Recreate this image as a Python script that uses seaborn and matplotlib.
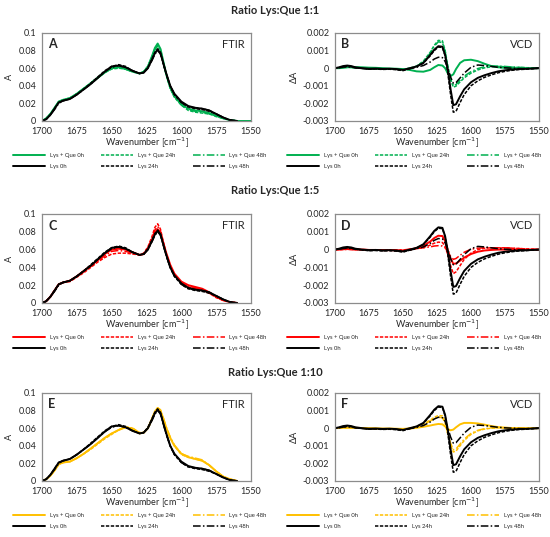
import numpy as np
import pandas as pd
import matplotlib
matplotlib.use("Agg")
import matplotlib.pyplot as plt
import seaborn as sns
from matplotlib.ticker import FuncFormatter

nan = np.nan

# wavenumber grid (cm-1), shared by every spectrum
WN = [1700, 1697, 1694, 1691, 1688, 1685,
      1680, 1675, 1670, 1665, 1660, 1655, 1650, 1645, 1640, 1635, 1630,
      1627, 1624, 1621, 1619, 1617, 1615, 1613, 1611, 1608, 1605,
      1600, 1595, 1590, 1585, 1580, 1575, 1570, 1565, 1560, 1555, 1550]

# ---- FTIR (absorbance) ----
LYS_FTIR_0H = [0.000, 0.002, 0.007, 0.014, 0.021, 0.023,
               0.025, 0.030, 0.036, 0.042, 0.049, 0.056, 0.062, 0.063, 0.061, 0.057, 0.054,
               0.055, 0.060, 0.070, 0.077, 0.081, 0.077, 0.066, 0.055, 0.040, 0.031,
               0.022, 0.017, 0.015, 0.014, 0.012, 0.008, 0.004, 0.001, 0.000, nan, nan]
LYS_FTIR_24H = [0.000, 0.002, 0.007, 0.014, 0.021, 0.023,
                0.025, 0.030, 0.036, 0.043, 0.050, 0.057, 0.062, 0.064, 0.062, 0.057, 0.054,
                0.055, 0.061, 0.071, 0.078, 0.082, 0.078, 0.066, 0.054, 0.040, 0.030,
                0.021, 0.016, 0.014, 0.013, 0.011, 0.008, 0.004, 0.001, 0.000, nan, nan]
LYS_FTIR_48H = [0.000, 0.002, 0.007, 0.013, 0.020, 0.023,
                0.025, 0.030, 0.036, 0.042, 0.049, 0.056, 0.061, 0.063, 0.061, 0.057, 0.054,
                0.055, 0.060, 0.069, 0.076, 0.080, 0.076, 0.065, 0.054, 0.040, 0.030,
                0.021, 0.016, 0.015, 0.014, 0.012, 0.008, 0.004, 0.001, 0.000, nan, nan]

QUE11_FTIR_0H = [0.000, 0.003, 0.008, 0.015, 0.022, 0.024,
                 0.026, 0.031, 0.037, 0.043, 0.049, 0.055, 0.060, 0.061, 0.059, 0.056, 0.054,
                 0.056, 0.062, 0.074, 0.083, 0.088, 0.082, 0.068, 0.054, 0.038, 0.028,
                 0.019, 0.014, 0.012, 0.011, 0.009, 0.006, 0.003, 0.001, 0.000, 0.000, 0.000]
QUE11_FTIR_24H = [0.000, 0.003, 0.008, 0.015, 0.022, 0.024,
                  0.026, 0.031, 0.037, 0.043, 0.049, 0.055, 0.059, 0.060, 0.059, 0.056, 0.054,
                  0.056, 0.062, 0.073, 0.082, 0.086, 0.081, 0.067, 0.053, 0.037, 0.027,
                  0.018, 0.012, 0.010, 0.009, 0.008, 0.005, 0.003, 0.001, 0.000, 0.000, 0.000]
QUE11_FTIR_48H = [0.000, 0.003, 0.008, 0.015, 0.022, 0.024,
                  0.026, 0.031, 0.037, 0.043, 0.050, 0.056, 0.060, 0.061, 0.059, 0.056, 0.054,
                  0.056, 0.062, 0.073, 0.081, 0.085, 0.080, 0.067, 0.054, 0.038, 0.028,
                  0.018, 0.013, 0.011, 0.010, 0.008, 0.006, 0.003, 0.001, 0.000, 0.000, 0.000]

QUE15_FTIR_0H = [0.000, 0.002, 0.007, 0.014, 0.021, 0.023,
                 0.025, 0.030, 0.036, 0.042, 0.048, 0.055, 0.060, 0.061, 0.060, 0.057, 0.054,
                 0.055, 0.061, 0.071, 0.079, 0.083, 0.079, 0.068, 0.057, 0.043, 0.033,
                 0.024, 0.020, 0.018, 0.016, 0.012, 0.007, 0.003, 0.001, 0.000, nan, nan]
QUE15_FTIR_24H = [0.000, 0.002, 0.007, 0.014, 0.021, 0.023,
                  0.024, 0.029, 0.034, 0.040, 0.046, 0.051, 0.055, 0.056, 0.056, 0.055, 0.054,
                  0.056, 0.063, 0.075, 0.085, 0.089, 0.083, 0.069, 0.056, 0.041, 0.031,
                  0.022, 0.018, 0.016, 0.015, 0.011, 0.006, 0.003, 0.001, 0.000, nan, nan]
QUE15_FTIR_48H = [0.000, 0.002, 0.007, 0.014, 0.021, 0.023,
                  0.025, 0.030, 0.035, 0.041, 0.047, 0.053, 0.058, 0.059, 0.058, 0.056, 0.054,
                  0.055, 0.062, 0.073, 0.082, 0.086, 0.081, 0.068, 0.056, 0.042, 0.032,
                  0.023, 0.019, 0.017, 0.015, 0.011, 0.007, 0.003, 0.001, 0.000, nan, nan]

QUE110_FTIR_0H = [0.000, 0.002, 0.006, 0.012, 0.019, 0.021,
                  0.022, 0.026, 0.031, 0.037, 0.043, 0.049, 0.054, 0.058, 0.061, 0.059, 0.054,
                  0.055, 0.060, 0.071, 0.079, 0.083, 0.080, 0.071, 0.061, 0.049, 0.040,
                  0.031, 0.027, 0.025, 0.023, 0.018, 0.011, 0.005, 0.002, 0.000, nan, nan]
QUE110_FTIR_24H = [0.000, 0.002, 0.006, 0.012, 0.019, 0.021,
                   0.022, 0.026, 0.031, 0.036, 0.042, 0.048, 0.053, 0.058, 0.061, 0.060, 0.055,
                   0.055, 0.060, 0.070, 0.078, 0.082, 0.080, 0.071, 0.061, 0.049, 0.040,
                   0.030, 0.027, 0.025, 0.023, 0.018, 0.011, 0.005, 0.002, 0.000, nan, nan]
QUE110_FTIR_48H = [0.000, 0.002, 0.006, 0.012, 0.019, 0.021,
                   0.022, 0.026, 0.031, 0.037, 0.043, 0.049, 0.054, 0.058, 0.062, 0.060, 0.055,
                   0.055, 0.060, 0.071, 0.079, 0.083, 0.081, 0.072, 0.062, 0.050, 0.041,
                   0.031, 0.028, 0.026, 0.024, 0.018, 0.011, 0.005, 0.002, 0.000, nan, nan]

# ---- VCD (delta A, in units of 1e-3) ----
LYS_VCD_0H = [0.00, 0.05, 0.12, 0.15, 0.12, 0.05,
              0.00, -0.03, -0.02, -0.04, -0.03, -0.05, -0.10, 0.00, 0.10, 0.30, 0.75,
              1.05, 1.25, 1.22, 0.75, -0.10, -1.20, -2.10, -2.05, -1.60, -1.20,
              -0.80, -0.55, -0.40, -0.28, -0.18, -0.12, -0.08, -0.05, -0.04, -0.02, 0.00]
LYS_VCD_24H = [0.00, 0.03, 0.08, 0.10, 0.08, 0.03,
               -0.02, -0.06, -0.05, -0.07, -0.06, -0.08, -0.14, -0.03, 0.08, 0.28, 0.70,
               1.00, 1.20, 1.18, 0.70, -0.30, -1.50, -2.50, -2.45, -1.95, -1.50,
               -1.00, -0.72, -0.52, -0.38, -0.26, -0.18, -0.12, -0.08, -0.06, -0.03, 0.00]
LYS_VCD_48H = [0.00, 0.02, 0.06, 0.08, 0.06, 0.02,
               -0.02, -0.05, -0.04, -0.06, -0.05, -0.07, -0.12, -0.03, 0.05, 0.15, 0.35,
               0.52, 0.62, 0.60, 0.38, 0.00, -0.50, -0.85, -0.82, -0.55, -0.28,
               0.05, 0.18, 0.15, 0.10, 0.05, 0.02, 0.00, -0.02, -0.03, -0.02, 0.00]

QUE11_VCD_0H = [0.00, 0.00, 0.02, 0.05, 0.06, 0.06,
                0.05, 0.03, 0.02, 0.00, -0.02, -0.03, -0.05, -0.10, -0.18, -0.20, -0.10,
                0.05, 0.18, 0.15, 0.00, -0.30, -0.45, -0.35, -0.05, 0.30, 0.45,
                0.48, 0.40, 0.25, 0.12, 0.05, 0.02, 0.00, 0.00, 0.00, 0.00, 0.00]
QUE11_VCD_24H = [0.00, 0.02, 0.05, 0.06, 0.05, 0.03,
                 0.00, -0.03, -0.04, -0.05, -0.05, -0.06, -0.08, 0.00, 0.12, 0.40, 0.90,
                 1.30, 1.58, 1.55, 1.00, 0.10, -0.65, -1.08, -1.02, -0.78, -0.55,
                 -0.28, -0.10, 0.02, 0.08, 0.10, 0.08, 0.06, 0.04, 0.03, 0.01, 0.00]
QUE11_VCD_48H = [0.00, 0.02, 0.04, 0.05, 0.04, 0.02,
                 0.00, -0.02, -0.03, -0.04, -0.04, -0.05, -0.07, 0.00, 0.10, 0.35, 0.85,
                 1.25, 1.50, 1.45, 0.95, 0.05, -0.62, -1.00, -0.93, -0.68, -0.45,
                 -0.20, -0.02, 0.08, 0.12, 0.12, 0.10, 0.07, 0.05, 0.03, 0.02, 0.00]

QUE15_VCD_0H = [0.00, 0.01, 0.02, 0.03, 0.02, 0.01,
                0.00, -0.02, -0.02, -0.03, -0.03, -0.04, -0.05, 0.00, 0.08, 0.22, 0.45,
                0.65, 0.78, 0.76, 0.48, -0.05, -0.50, -0.80, -0.78, -0.62, -0.45,
                -0.25, -0.12, -0.05, -0.02, 0.00, 0.00, 0.00, 0.00, 0.00, 0.00, 0.00]
QUE15_VCD_24H = [0.00, 0.00, 0.01, 0.02, 0.01, 0.00,
                 -0.01, -0.02, -0.02, -0.03, -0.03, -0.03, -0.04, 0.00, 0.05, 0.12, 0.25,
                 0.36, 0.42, 0.40, 0.18, -0.30, -0.90, -1.35, -1.25, -0.90, -0.55,
                 -0.20, 0.00, 0.08, 0.10, 0.10, 0.10, 0.08, 0.06, 0.04, 0.02, 0.00]
QUE15_VCD_48H = [0.00, 0.00, 0.01, 0.01, 0.01, 0.00,
                 0.00, -0.01, -0.01, -0.02, -0.02, -0.02, -0.02, 0.02, 0.06, 0.10, 0.15,
                 0.20, 0.22, 0.20, 0.10, -0.12, -0.38, -0.55, -0.50, -0.32, -0.15,
                 0.02, 0.08, 0.10, 0.10, 0.10, 0.10, 0.08, 0.06, 0.04, 0.02, 0.00]

QUE110_VCD_0H = [0.00, 0.01, 0.02, 0.03, 0.03, 0.02,
                 0.01, 0.00, -0.01, -0.02, -0.02, -0.03, -0.04, -0.02, 0.02, 0.08, 0.15,
                 0.20, 0.24, 0.22, 0.10, -0.05, -0.12, -0.08, 0.05, 0.22, 0.30,
                 0.30, 0.27, 0.20, 0.12, 0.06, 0.03, 0.01, 0.00, 0.00, 0.00, 0.00]
QUE110_VCD_24H = [0.00, 0.01, 0.03, 0.04, 0.03, 0.02,
                  0.00, -0.02, -0.03, -0.04, -0.04, -0.05, -0.07, 0.00, 0.10, 0.25, 0.45,
                  0.62, 0.72, 0.70, 0.35, -0.35, -0.95, -1.35, -1.30, -1.00, -0.70,
                  -0.35, -0.15, -0.05, 0.00, 0.02, 0.02, 0.01, 0.00, 0.00, 0.00, 0.00]
QUE110_VCD_48H = [0.00, 0.01, 0.02, 0.03, 0.02, 0.01,
                  0.00, -0.02, -0.02, -0.03, -0.03, -0.04, -0.06, 0.00, 0.08, 0.22, 0.40,
                  0.55, 0.62, 0.60, 0.30, -0.30, -0.85, -1.22, -1.18, -0.90, -0.62,
                  -0.30, -0.12, -0.03, 0.02, 0.03, 0.03, 0.02, 0.01, 0.00, 0.00, 0.00]

RATIOS = ["1:1", "1:5", "1:10"]
COLORS = ["#00B050", "#FF0000", "#FFC000"]
LETTERS = [("A", "B"), ("C", "D"), ("E", "F")]
TIMES = ["0h", "24h", "48h"]
QUE_FTIR = [[QUE11_FTIR_0H, QUE11_FTIR_24H, QUE11_FTIR_48H],
            [QUE15_FTIR_0H, QUE15_FTIR_24H, QUE15_FTIR_48H],
            [QUE110_FTIR_0H, QUE110_FTIR_24H, QUE110_FTIR_48H]]
QUE_VCD = [[QUE11_VCD_0H, QUE11_VCD_24H, QUE11_VCD_48H],
           [QUE15_VCD_0H, QUE15_VCD_24H, QUE15_VCD_48H],
           [QUE110_VCD_0H, QUE110_VCD_24H, QUE110_VCD_48H]]
LYS_FTIR = [LYS_FTIR_0H, LYS_FTIR_24H, LYS_FTIR_48H]
LYS_VCD = [LYS_VCD_0H, LYS_VCD_24H, LYS_VCD_48H]

sns.set_theme(style="white")
plt.rcParams["font.family"] = ["Lato", "DejaVu Sans"]
plt.rcParams["axes.unicode_minus"] = False

STYLES = [dict(linestyle="-", linewidth=1.4),
          dict(dashes=(2.2, 1.0), linewidth=1.1),
          dict(dashes=(5, 1.5, 1, 1.5), linewidth=1.1)]

fig = plt.figure(figsize=(5.5, 5.37), dpi=100)

# axes boxes in figure fractions
col_x = [(0.0764, 0.380), (0.609, 0.371)]
row_y = [(0.7747, 0.1639), (0.4358, 0.1657), (0.1043, 0.1639)]
title_y = [0.981, 0.646, 0.307]

LEG_KW = dict(loc="upper left", ncol=3, frameon=False, fontsize=4.2,
              handlelength=5.5, columnspacing=3.0, labelspacing=1.0,
              borderaxespad=0, borderpad=0)


def draw_panel(ax, que_sets, lys_sets, color, scale):
    for t, vals, st in zip(TIMES, que_sets, STYLES):
        sns.lineplot(x=WN, y=np.array(vals) * scale, ax=ax, color=color,
                     estimator=None, label=f"Lys + Que {t}", **st)
    for t, vals, st in zip(TIMES, lys_sets, STYLES):
        sns.lineplot(x=WN, y=np.array(vals) * scale, ax=ax, color="black",
                     estimator=None, label=f"Lys {t}", **st)
    ax.set_xlim(1700, 1550)
    ax.set_xticks(np.arange(1700, 1549, -25))
    ax.yaxis.set_major_formatter(FuncFormatter(lambda v, p: f"{v:g}"))
    ax.tick_params(length=0, labelsize=6.5)
    ax.tick_params(axis="x", pad=4.5)
    ax.tick_params(axis="y", pad=4)
    for s in ax.spines.values():
        s.set_color("#8c8c8c")
        s.set_linewidth(0.9)
    ax.set_xlabel("Wavenumber [cm$^{-1}$]", fontsize=6.5, labelpad=0)
    h, l = ax.get_legend_handles_labels()
    order = [0, 3, 1, 4, 2, 5]
    return [h[i] for i in order], [l[i] for i in order]


for r in range(3):
    fig.text(0.5, title_y[r], f"Ratio Lys:Que {RATIOS[r]}", ha="center", va="center",
             fontsize=8, fontweight="bold")

    # FTIR
    ax = fig.add_axes([col_x[0][0], row_y[r][0], col_x[0][1], row_y[r][1]])
    h, l = draw_panel(ax, QUE_FTIR[r], LYS_FTIR, COLORS[r], 1.0)
    ax.set_ylim(0, 0.1)
    ax.set_yticks(np.arange(0, 0.101, 0.02))
    ax.set_ylabel("A", fontsize=6.5, labelpad=3)
    ax.text(0.03, 0.87, LETTERS[r][0], transform=ax.transAxes, fontsize=9,
            fontweight="bold", va="center")
    ax.text(0.97, 0.87, "FTIR", transform=ax.transAxes, fontsize=8,
            ha="right", va="center")
    ax.legend(h, l, bbox_to_anchor=(-0.14, -0.36), **LEG_KW)

    # VCD
    ax = fig.add_axes([col_x[1][0], row_y[r][0], col_x[1][1], row_y[r][1]])
    h, l = draw_panel(ax, QUE_VCD[r], LYS_VCD, COLORS[r], 1e-3)
    ax.set_ylim(-0.003, 0.002)
    ax.set_yticks(np.arange(-0.003, 0.0021, 0.001))
    ax.set_ylabel("ΔA", fontsize=6.5, labelpad=3)
    ax.text(0.03, 0.87, LETTERS[r][1], transform=ax.transAxes, fontsize=9,
            fontweight="bold", va="center")
    ax.text(0.97, 0.87, "VCD", transform=ax.transAxes, fontsize=8,
            ha="right", va="center")
    ax.legend(h, l, bbox_to_anchor=(-0.235, -0.36), **LEG_KW)

fig.savefig("out.png", dpi=100)
